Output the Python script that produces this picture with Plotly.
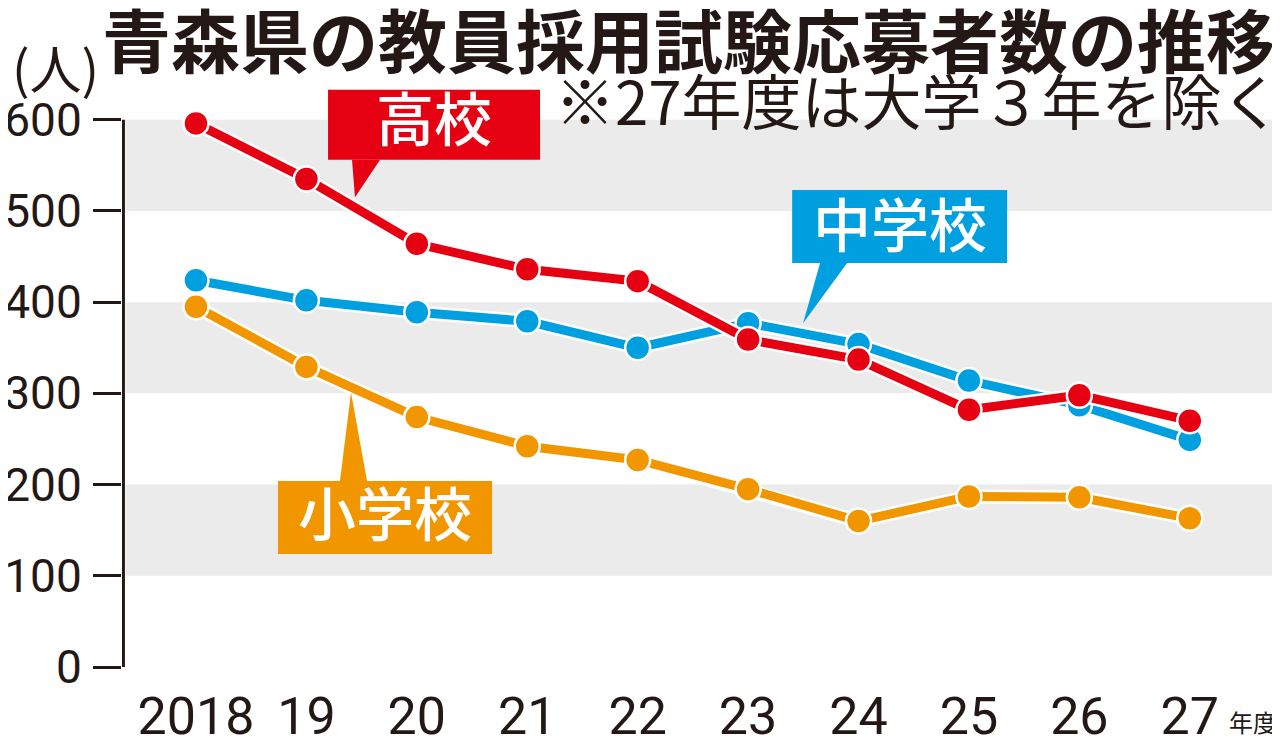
import plotly.graph_objects as go

# ==========================
# DATA
# ==========================

years = ["2018", "19", "20", "21", "22", "23", "24", "25", "26", "27"]
high_school = [596, 535, 464, 436, 423, 359, 337, 282, 298, 270]
junior_high = [424, 402, 389, 379, 350, 377, 354, 314, 287, 249]
elementary = [395, 329, 274, 242, 227, 195, 160, 187, 186, 163]
y_ticks = [0, 100, 200, 300, 400, 500, 600]

RED = "#e50012"
BLUE = "#00a0e0"
ORANGE = "#f29600"
INK = "#231815"
BAND = "#ebebeb"

NUM = "Roboto, Liberation Sans, sans-serif"
JP = "Noto Sans CJK JP, sans-serif"

xs = list(range(len(years)))

fig = go.Figure()

# series: white halo line first, then the coloured line with markers
for name, values, color in [
    ("小学校", elementary, ORANGE),
    ("中学校", junior_high, BLUE),
    ("高校", high_school, RED),
]:
    fig.add_trace(go.Scatter(
        x=xs, y=values, mode="lines",
        line=dict(color="white", width=14),
        hoverinfo="skip", showlegend=False, cliponaxis=False,
    ))
    fig.add_trace(go.Scatter(
        x=xs, y=values, mode="lines+markers", name=name,
        line=dict(color=color, width=9),
        marker=dict(size=25, color=color, line=dict(color="white", width=2.5)),
        showlegend=False, cliponaxis=False,
    ))

# small dots above the year labels
fig.add_trace(go.Scatter(
    x=xs, y=[-10] * len(xs), mode="markers",
    marker=dict(size=10, color=INK),
    hoverinfo="skip", showlegend=False, cliponaxis=False,
))

# grey bands 100-200, 300-400, 500-600
shapes = []
for lo in (100, 300, 500):
    shapes.append(dict(
        type="rect", xref="paper", yref="y", x0=0.003, x1=1, y0=lo, y1=lo + 100,
        fillcolor=BAND, line=dict(width=0), layer="below",
    ))

# y axis line (only up to 600)
shapes.append(dict(
    type="line", xref="x", yref="y", x0=-0.657, x1=-0.657, y0=0, y1=600,
    line=dict(color=INK, width=3), layer="above",
))

# callout boxes with pointers
callouts = [
    ("高校", RED, (1.196, 3.116, 556, 633), [(1.413, 556), (1.44, 515), (1.667, 556)], (2.156, 604)),
    ("中学校", BLUE, (5.399, 7.346, 443, 523), [(5.652, 443), (5.498, 377), (5.897, 443)], (6.372, 488)),
    ("小学校", ORANGE, (0.743, 2.681, 124, 204), [(1.304, 204), (1.404, 301), (1.549, 204)], (1.712, 171)),
]
annotations = []
for label, color, (bx0, bx1, by0, by1), tri, (tx, ty) in callouts:
    tri_path = "M {},{} L {},{} L {},{} Z".format(*[v for p in tri for v in p])
    shapes.append(dict(
        type="rect", xref="x", yref="y", x0=bx0, x1=bx1, y0=by0, y1=by1,
        fillcolor=color, line=dict(width=0), layer="above",
    ))
    shapes.append(dict(
        type="path", xref="x", yref="y", path=tri_path,
        fillcolor=color, line=dict(width=0), layer="above",
    ))
    annotations.append(dict(
        x=tx, y=ty, xref="x", yref="y", text=label, showarrow=False,
        yanchor="middle",
        font=dict(family=JP, size=58, color="white", weight=500),
    ))

# title, note, unit, and 年度 suffix
annotations += [
    dict(xref="paper", yref="paper", x=1.0, y=1.045, xanchor="right", yanchor="middle",
         text="青森県の教員採用試験応募者数の推移", showarrow=False,
         font=dict(family=JP, size=69, color=INK, weight="bold")),
    dict(xref="paper", yref="paper", x=1.006, y=0.945, xanchor="right", yanchor="middle",
         text="※27年度は大学３年を除く", showarrow=False,
         font=dict(family=JP, size=60, color=INK)),
    dict(xref="paper", yref="paper", x=-0.097, y=0.998, xanchor="left", yanchor="middle",
         text="(人)", showarrow=False,
         font=dict(family=JP, size=52, color=INK)),
    dict(xref="x", yref="paper", x=9.34, y=-0.09, xanchor="left", yanchor="middle",
         text="年度", showarrow=False,
         font=dict(family=JP, size=24, color=INK)),
]

# the page body adds an 8px offset, so the figure is 8px smaller each way
fig.update_layout(
    width=1272,
    height=733,
    margin=dict(l=114, r=3, t=57, b=74),
    paper_bgcolor="white",
    plot_bgcolor="white",
    shapes=shapes,
    annotations=annotations,
    hovermode=False,
    xaxis=dict(
        range=[-0.67, 9.79],
        tickvals=xs,
        ticktext=years,
        tickangle=0,
        automargin=False,
        showgrid=False,
        zeroline=False,
        showline=False,
        ticks="",
        ticklabelstandoff=14,
        tickfont=dict(family=NUM, size=52, color=INK),
        fixedrange=True,
    ),
    yaxis=dict(
        range=[0, 660],
        tickvals=y_ticks,
        automargin=False,
        showgrid=False,
        zeroline=False,
        showline=False,
        ticks="outside",
        ticklen=28,
        tickwidth=3,
        tickcolor=INK,
        ticklabelstandoff=2,
        tickfont=dict(family=NUM, size=46, color=INK),
        fixedrange=True,
    ),
)

fig.write_html("out.html")
